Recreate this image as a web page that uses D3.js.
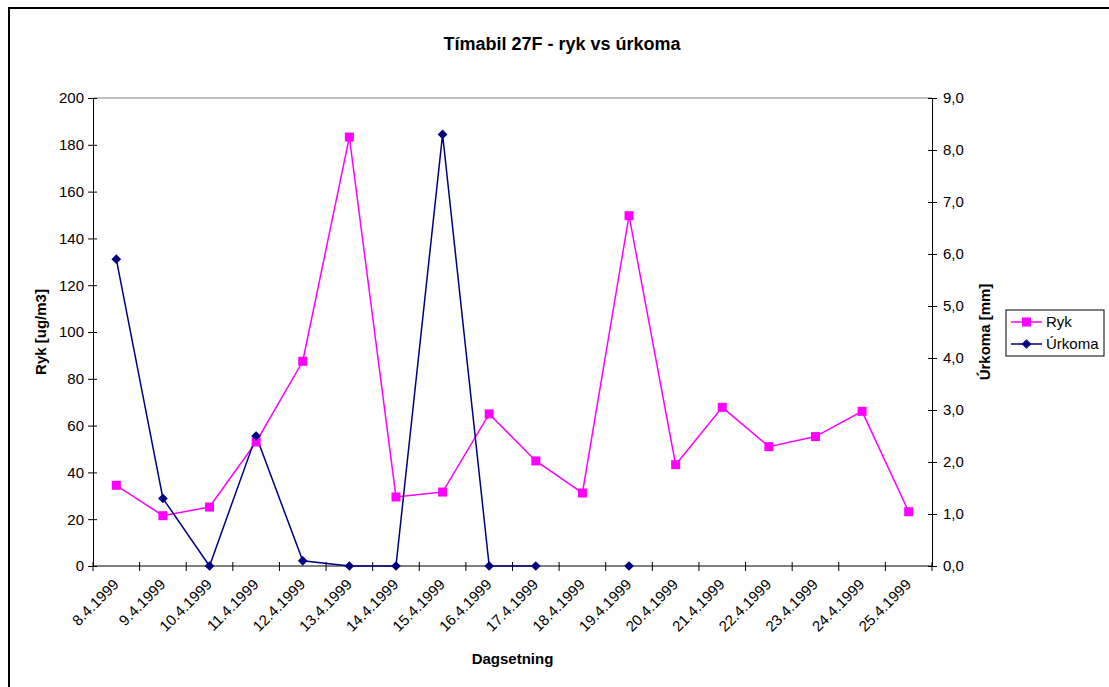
<!DOCTYPE html>
<html><head><meta charset="utf-8">
<script src="https://cdn.jsdelivr.net/npm/d3@7"></script>
<style>
body{margin:0;background:#fff;}
text{font-family:"Liberation Sans",Arial,sans-serif;}
</style></head>
<body><svg id="c" width="1109" height="687"></svg>
<script>
const categories = ["8.4.1999","9.4.1999","10.4.1999","11.4.1999","12.4.1999","13.4.1999","14.4.1999","15.4.1999","16.4.1999","17.4.1999","18.4.1999","19.4.1999","20.4.1999","21.4.1999","22.4.1999","23.4.1999","24.4.1999","25.4.1999"];
const ryk = [34.5,21.5,25.2,53,87.5,183.3,29.5,31.6,65,44.9,31.2,149.7,43.3,67.8,51,55.3,66.1,23.2];
const urkoma = [5.9,1.3,0,2.5,0.1,0,0,8.3,0,0,null,0,null,null,null,null,null,null];
const leftTicks = [0,20,40,60,80,100,120,140,160,180,200];
const rightTicks = [0,1,2,3,4,5,6,7,8,9];

const svg = d3.select("#c");
const L=93,R=932,T=98,B=566;
const FS=15;
svg.append("rect").attr("x",9).attr("y",8).attr("width",1120).attr("height",700).attr("fill","#fff").attr("stroke","#000").attr("stroke-width",2);

const x = d3.scaleBand().domain(categories).range([L,R]).padding(0);
const yL = d3.scaleLinear().domain([0,200]).range([B,T]);
const yR = d3.scaleLinear().domain([0,9]).range([B,T]);
const cx = d=>x(d)+x.bandwidth()/2;

svg.append("line").attr("x1",L).attr("x2",R).attr("y1",T).attr("y2",T).attr("stroke","#808080").attr("stroke-width",1);

const gl = svg.append("g").attr("transform",`translate(${L},0)`)
  .call(d3.axisLeft(yL).tickValues(leftTicks).tickSize(5).tickSizeOuter(0).tickFormat(d3.format("d")));
gl.selectAll(".tick line").attr("x2",-5).attr("x1",4);
const gr = svg.append("g").attr("transform",`translate(${R},0)`)
  .call(d3.axisRight(yR).tickValues(rightTicks).tickSize(5).tickSizeOuter(0).tickFormat(d=>d.toFixed(1).replace(".",",")));
gr.selectAll(".tick line").attr("x1",-4).attr("x2",5);

const boundaries = categories.map(c=>x(c)).concat([R]);
const gb = svg.append("g");
gb.append("line").attr("x1",L).attr("x2",R).attr("y1",B).attr("y2",B).attr("stroke","#000");
gb.selectAll("line.t").data(boundaries).join("line").attr("class","t")
  .attr("x1",d=>d).attr("x2",d=>d).attr("y1",B-4).attr("y2",B+5).attr("stroke","#000");
gb.selectAll("text").data(categories).join("text")
  .attr("transform",d=>`translate(${cx(d)-4},${B+12}) rotate(-45)`)
  .attr("text-anchor","end").attr("dy","0.7em").attr("font-size",FS).text(d=>d);

[gl,gr].forEach(g=>{
  g.selectAll("path").attr("stroke","#000");
  g.selectAll("line").attr("stroke","#000");
  g.selectAll("text").attr("font-size",FS).attr("fill","#000").attr("font-family","Liberation Sans, Arial, sans-serif");
});
gl.selectAll(".tick text").attr("x",-9);
gr.selectAll(".tick text").attr("x",11);

const lineR = d3.line().x((d,i)=>cx(categories[i])).y(d=>yL(d));
svg.append("path").datum(ryk).attr("d",lineR).attr("fill","none").attr("stroke","#FF00FF").attr("stroke-width",1.5);
const lineU = d3.line().defined(d=>d!==null).x((d,i)=>cx(categories[i])).y(d=>yR(d));
svg.append("path").datum(urkoma).attr("d",lineU).attr("fill","none").attr("stroke","#000080").attr("stroke-width",1.5);

svg.selectAll("rect.ryk").data(ryk).join("rect").attr("class","ryk")
  .attr("x",(d,i)=>cx(categories[i])-4.5).attr("y",d=>yL(d)-4.5).attr("width",9).attr("height",9).attr("fill","#FF00FF");
const diamond = d3.symbol().type(d3.symbolDiamond2).size(60);
svg.selectAll("path.uk").data(urkoma.map((v,i)=>({v,i})).filter(d=>d.v!==null)).join("path").attr("class","uk")
  .attr("transform",d=>`translate(${cx(categories[d.i])},${yR(d.v)})`).attr("d",diamond).attr("fill","#000080");

svg.append("text").attr("x",562).attr("y",50).attr("text-anchor","middle").attr("font-weight","bold").attr("font-size",18).text("Tímabil 27F - ryk vs úrkoma");
svg.append("text").attr("transform",`translate(46,${(T+B)/2}) rotate(-90)`).attr("text-anchor","middle").attr("font-weight","bold").attr("font-size",15).text("Ryk [ug/m3]");
svg.append("text").attr("transform",`translate(990,${(T+B)/2}) rotate(-90)`).attr("text-anchor","middle").attr("font-weight","bold").attr("font-size",15).text("Úrkoma [mm]");
svg.append("text").attr("x",(L+R)/2).attr("y",664).attr("text-anchor","middle").attr("font-weight","bold").attr("font-size",15).text("Dagsetning");

const lg = svg.append("g");
lg.append("rect").attr("x",1006).attr("y",310).attr("width",98).attr("height",46).attr("fill","#fff").attr("stroke","#000");
const items=[{n:"Ryk",c:"#FF00FF",t:"sq"},{n:"Úrkoma",c:"#000080",t:"di"}];
items.forEach((it,i)=>{
  const yy=322+i*22;
  lg.append("line").attr("x1",1011).attr("x2",1042).attr("y1",yy).attr("y2",yy).attr("stroke",it.c).attr("stroke-width",1.5);
  if(it.t==="sq") lg.append("rect").attr("x",1022).attr("y",yy-4.5).attr("width",9).attr("height",9).attr("fill",it.c);
  else lg.append("path").attr("transform",`translate(1026.5,${yy})`).attr("d",diamond).attr("fill",it.c);
  lg.append("text").attr("x",1046).attr("y",yy+5).attr("font-size",15).text(it.n);
});
</script></body></html>
